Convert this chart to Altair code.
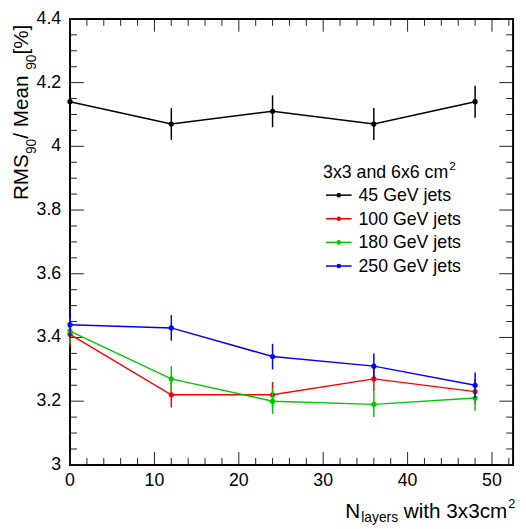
import altair as alt
import pandas as pd

# ---------------- data ----------------
x_layers = [0, 12, 24, 36, 48]
series_names = ["45 GeV jets", "100 GeV jets", "180 GeV jets", "250 GeV jets"]
series_colors = ["#000000", "#ff0000", "#00c800", "#0000ff"]
vals_45 = [4.14, 4.07, 4.11, 4.07, 4.14]
err_45 = [0.05, 0.05, 0.05, 0.05, 0.05]
vals_100 = [3.41, 3.22, 3.22, 3.27, 3.23]
err_100 = [0.04, 0.04, 0.04, 0.04, 0.04]
vals_180 = [3.42, 3.27, 3.20, 3.19, 3.21]
err_180 = [0.04, 0.04, 0.04, 0.04, 0.04]
vals_250 = [3.44, 3.43, 3.34, 3.31, 3.25]
err_250 = [0.04, 0.04, 0.04, 0.04, 0.04]
series_vals = [vals_45, vals_100, vals_180, vals_250]
series_errs = [err_45, err_100, err_180, err_250]

x_major_ticks = [0, 10, 20, 30, 40, 50]
x_minor_ticks = [2, 4, 6, 8, 12, 14, 16, 18, 22, 24, 26, 28, 32, 34, 36, 38,
                 42, 44, 46, 48, 52]
y_major_ticks = [3.0, 3.2, 3.4, 3.6, 3.8, 4.0, 4.2, 4.4]
y_minor_ticks = [3.05, 3.1, 3.15, 3.25, 3.3, 3.35, 3.45, 3.5, 3.55, 3.65, 3.7,
                 3.75, 3.85, 3.9, 3.95, 4.05, 4.1, 4.15, 4.25, 4.3, 4.35]

legend_header = "3x3 and 6x6 cm"
legend_header_sup = "2"
x_title_main = "N"
x_title_sub = "layers"
x_title_rest = " with 3x3cm"
x_title_sup = "2"
y_title_pieces = [("RMS", "main"), ("90", "sub"), (" / Mean", "main"),
                  ("90", "sub"), (" [%]", "main")]

# ---------------- layout helpers ----------------
W, H = 450, 453
FONT = "Liberation Sans"
TICK = "#222222"
X_DOMAIN = [0, 52.5]
Y_DOMAIN = [3.0, 4.4]

ARIAL = {' ': .278, '/': .278, '[': .278, ']': .278, '%': .889, 'R': .722,
         'M': .833, 'S': .667, 'e': .556, 'a': .556, 'n': .556, 'N': .722,
         'l': .222, 'y': .5, 'r': .333, 's': .5, 'w': .722, 'i': .222,
         't': .278, 'h': .556, 'x': .5, 'c': .5, 'm': .833, 'd': .556}


def text_width(s, size):
    return sum(ARIAL.get(ch, .556) for ch in s) * size


xs = alt.Scale(domain=X_DOMAIN, nice=False, zero=False)
ys = alt.Scale(domain=Y_DOMAIN, nice=False, zero=False)


def label(text, x, y, size, angle=None, align="left", baseline="alphabetic"):
    kw = dict(font=FONT, fontSize=size, align=align, baseline=baseline,
              color="black")
    if angle is not None:
        kw["angle"] = angle
    return alt.Chart(pd.DataFrame({"t": [text]})).mark_text(**kw).encode(
        text="t:N", x=alt.value(x), y=alt.value(y))


def series_df(vals, errs, name):
    return pd.DataFrame({
        "x": x_layers, "y": vals,
        "lo": [v - e for v, e in zip(vals, errs)],
        "hi": [v + e for v, e in zip(vals, errs)],
        "series": [name] * len(vals),
    })


layers = []


# ticks (inward, all four sides)
def xtick_layer(vals, length, top):
    df = pd.DataFrame({"v": vals})
    if top:
        yy, yy2 = alt.value(0), alt.value(length)
    else:
        yy, yy2 = alt.value(H), alt.value(H - length)
    return alt.Chart(df).mark_rule(color=TICK, strokeWidth=1).encode(
        x=alt.X("v:Q", scale=xs, axis=None), y=yy, y2=yy2)


def ytick_layer(vals, length, right):
    df = pd.DataFrame({"v": vals})
    if right:
        xx, xx2 = alt.value(W), alt.value(W - length)
    else:
        xx, xx2 = alt.value(0), alt.value(length)
    return alt.Chart(df).mark_rule(color=TICK, strokeWidth=1).encode(
        y=alt.Y("v:Q", scale=ys, axis=None), x=xx, x2=xx2)


for top in (False, True):
    layers.append(xtick_layer(x_major_ticks, 13, top))
    layers.append(xtick_layer(x_minor_ticks, 7, top))
for right in (False, True):
    layers.append(ytick_layer(y_major_ticks, 14, right))
    layers.append(ytick_layer(y_minor_ticks, 7, right))

# tick labels, placed through the scales
layers.append(
    alt.Chart(pd.DataFrame({"v": x_major_ticks}))
    .mark_text(font=FONT, fontSize=18, align="center", baseline="top",
               color="black")
    .encode(x=alt.X("v:Q", scale=xs, axis=None), y=alt.value(H + 7),
            text=alt.Text("v:Q", format="d")))
layers.append(
    alt.Chart(pd.DataFrame({"v": y_major_ticks}))
    .mark_text(font=FONT, fontSize=18, align="right", baseline="middle",
               color="black")
    .encode(y=alt.Y("v:Q", scale=ys, axis=None), x=alt.value(-9),
            text=alt.Text("v:Q", format=".1~f")))

# data series
for i, (name, color, vals, errs) in enumerate(
        zip(series_names, series_colors, series_vals, series_errs)):
    base = alt.Chart(series_df(vals, errs, name))
    xenc = alt.X("x:Q", scale=xs, axis=None)
    yenc = alt.Y("y:Q", scale=ys, axis=None)
    layers.append(base.mark_rule(color=color, strokeWidth=1.5).encode(
        x=xenc, y=alt.Y("lo:Q", scale=ys, axis=None), y2="hi:Q"))
    layers.append(base.mark_line(color=color, strokeWidth=1.5).encode(
        x=xenc, y=yenc))
    layers.append(base.mark_circle(color=color, size=28, opacity=1).encode(
        x=xenc, y=yenc))

# legend (manual, ROOT style)
LX0, LX1, LTX = 260, 286, 293
layers.append(label(legend_header, 257, 162, 18))
layers.append(label(legend_header_sup, 257 + text_width(legend_header, 18) + 1,
                    153, 12))
for i, (name, color) in enumerate(zip(series_names, series_colors)):
    yb = 185 + 24 * i
    df = pd.DataFrame({"t": [name]})
    layers.append(alt.Chart(df).mark_rule(color=color, strokeWidth=1.5).encode(
        x=alt.value(LX0), x2=alt.value(LX1), y=alt.value(yb - 6)))
    layers.append(alt.Chart(df).mark_circle(color=color, size=22, opacity=1)
                  .encode(x=alt.value((LX0 + LX1) / 2), y=alt.value(yb - 6)))
    layers.append(label(name, LTX, yb, 18))

# x title (right aligned, with subscript and superscript)
XT_SIZE, XT_SUB = 21, 14
x_right = 444
layers.append(label(x_title_sup, x_right + 1, 497, 13))
layers.append(label(x_title_rest, x_right, 507, XT_SIZE, align="right"))
sub_right = x_right - text_width(x_title_rest, XT_SIZE)
layers.append(label(x_title_sub, sub_right, 511, XT_SUB, align="right"))
n_right = sub_right - text_width(x_title_sub, XT_SUB) - 1
layers.append(label(x_title_main, n_right, 507, XT_SIZE, align="right"))

# y title (rotated, pieces chained bottom -> top)
YT_SIZE, YT_SUB = 21, 14
cur = 184
for txt, kind in y_title_pieces:
    size = YT_SIZE if kind == "main" else YT_SUB
    xpos = -43 if kind == "main" else -35
    layers.append(label(txt, xpos, cur, size, angle=270))
    cur -= text_width(txt, size)

chart = alt.layer(*layers).properties(
    width=W, height=H,
    background="white",
    autosize=alt.AutoSizeParams(type="none"),
    padding={"left": 63, "top": 7, "right": 5, "bottom": 58},
).configure_view(stroke="black", strokeWidth=2)

chart.save("out.html", embed_options={"renderer": "svg", "actions": False})
